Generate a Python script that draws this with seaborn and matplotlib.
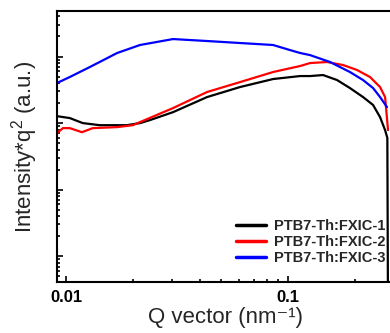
import numpy as np
import pandas as pd
import matplotlib
matplotlib.use("Agg")
import matplotlib.pyplot as plt
import seaborn as sns
from matplotlib.ticker import LogLocator, NullFormatter, FixedLocator, FixedFormatter

sns.set_style("ticks")
plt.rcParams['font.family'] = ['Liberation Sans', 'DejaVu Sans']
plt.rcParams['mathtext.fontset'] = 'custom'
plt.rcParams['mathtext.rm'] = 'Liberation Sans'
plt.rcParams['mathtext.it'] = 'Liberation Sans'

series_names = ["PTB7-Th:FXIC-1", "PTB7-Th:FXIC-2", "PTB7-Th:FXIC-3"]
colors = ["#000000", "#ff0000", "#0000ff"]

q1 = [0.00911, 0.0104, 0.0119, 0.0142, 0.0188, 0.02154, 0.0239, 0.03034, 0.04318,
      0.0608, 0.0856, 0.1133, 0.1257, 0.1438, 0.1663, 0.190, 0.2177, 0.2415,
      0.2596, 0.2735, 0.2800, 0.2820]
i1 = [1.27, 1.19, 1.0, 0.93, 0.93, 1.0, 1.11, 1.46, 2.46,
      3.48, 4.59, 5.09, 5.09, 5.27, 4.43, 3.36, 2.46, 1.87,
      1.23, 0.785, 0.60, 0.001]

q2 = [0.00911, 0.00969, 0.0104, 0.0118, 0.0132, 0.0170, 0.0200, 0.02154, 0.03034,
      0.04318, 0.0608, 0.0856, 0.1133, 0.1257, 0.1498, 0.177, 0.2046, 0.234,
      0.2596, 0.2735, 0.282]
i2 = [0.707, 0.84, 0.84, 0.73, 0.84, 0.87, 0.93, 1.035, 1.68,
      2.93, 4.13, 5.85, 7.2, 7.98, 8.27, 7.45, 6.27, 4.92,
      3.48, 2.46, 0.785]

q3 = [0.00911, 0.0104, 0.0128, 0.0170, 0.02154, 0.03034, 0.04318, 0.0608, 0.0856,
      0.1021, 0.1133, 0.1257, 0.1546, 0.190, 0.2177, 0.2415, 0.2596, 0.279]
i3 = [4.0, 4.92, 6.95, 11.3, 14.9, 18.3, 17.1, 15.96, 14.9,
      12.5, 11.3, 10.5, 8.27, 5.85, 4.43, 3.36, 2.46, 1.74]

xticks = [0.01, 0.1]
xticklabels = ["0.01", "0.1"]

frames = []
for name, q, v in zip(series_names, [q1, q2, q3], [i1, i2, i3]):
    frames.append(pd.DataFrame({"q": q, "I": v, "sample": name}))
df = pd.concat(frames, ignore_index=True)

fig = plt.figure(figsize=(3.9, 3.33), dpi=100)
ax = fig.add_axes([57/390, 1-282/333, (394-57)/390, (282-11)/333])

sns.lineplot(data=df, x="q", y="I", hue="sample", palette=colors,
             estimator=None, sort=False, linewidth=1.6, ax=ax)

ax.set_xscale("log")
ax.set_yscale("log")
ax.set_xlim(0.00911, 0.300)
ax.set_ylim(0.0041, 48.3)

ax.xaxis.set_major_locator(FixedLocator(xticks))
ax.xaxis.set_major_formatter(FixedFormatter(xticklabels))
ax.xaxis.set_minor_locator(LogLocator(base=10, subs=np.arange(2, 10)))
ax.xaxis.set_minor_formatter(NullFormatter())
ax.yaxis.set_major_locator(LogLocator(base=10, numticks=10))
ax.yaxis.set_minor_locator(LogLocator(base=10, subs=np.arange(2, 10), numticks=10))
ax.yaxis.set_major_formatter(NullFormatter())
ax.yaxis.set_minor_formatter(NullFormatter())

ax.tick_params(which="both", direction="in", width=1.2, colors="black")
ax.tick_params(which="major", length=4)
ax.tick_params(which="minor", length=2)
ax.tick_params(axis="x", labelsize=12, pad=6)
for lab in ax.get_xticklabels():
    lab.set_fontweight("bold")

for s in ax.spines.values():
    s.set_linewidth(1.5)
    s.set_color("black")

ax.set_xlabel("Q vector (nm\u207b\u00b9)", fontsize=16, labelpad=1)
ax.set_ylabel("Intensity*q$^{2}$ (a.u.)", fontsize=16, labelpad=9)

leg = ax.legend(loc="lower right", bbox_to_anchor=((394-57)/337, 0.03),
                frameon=False, prop={"weight": "bold", "size": 10.5},
                handlelength=2.1, handletextpad=0.5, labelspacing=0.15,
                borderaxespad=0.2)
for line in leg.get_lines():
    line.set_linewidth(2.5)

fig.savefig("out.png", dpi=100)
